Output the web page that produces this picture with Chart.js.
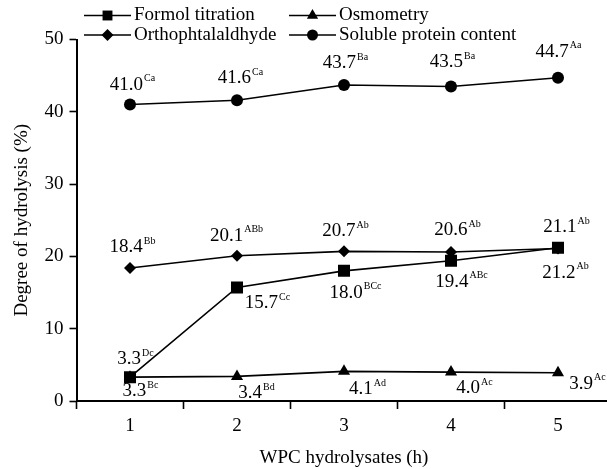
<!DOCTYPE html>
<html>
<head>
<meta charset="utf-8">
<script src="https://cdn.jsdelivr.net/npm/chart.js@4.4.0/dist/chart.umd.min.js"></script>
<style>
  html, body { margin: 0; padding: 0; background: #fff; overflow: hidden; }
  #wrap { width: 640px; height: 469px; }
</style>
</head>
<body>
<div id="wrap"><canvas id="chart" width="640" height="469"></canvas></div>
<script>
// categories (hours) and series values
const hours = ['1', '2', '3', '4', '5'];
const formolValues = [3.3, 15.7, 18.0, 19.4, 21.2];
const osmometryValues = [3.3, 3.4, 4.1, 4.0, 3.9];
const opaValues = [18.4, 20.1, 20.7, 20.6, 21.1];
const solubleValues = [41.0, 41.6, 43.7, 43.5, 44.7];

// significance letters shown as superscripts
const formolLetters = ['Dc', 'Cc', 'BCc', 'ABc', 'Ab'];
const osmometryLetters = ['Bc', 'Bd', 'Ad', 'Ac', 'Ac'];
const opaLetters = ['Bb', 'ABb', 'Ab', 'Ab', 'Ab'];
const solubleLetters = ['Ca', 'Ca', 'Ba', 'Ba', 'Aa'];

const yTicks = [0, 10, 20, 30, 40, 50];

const FONT = '"Liberation Serif", "Times New Roman", serif';

// where each value label sits relative to its point (dx, dy of label centre)
const labelOffsets = [
  [[5, -18], [30, 16], [11, 22], [10, 21], [7, 25]],
  [[10, 14], [19, 17], [23, 18], [23, 16], [29, 11]],
  [[2, -21], [-1, -20], [1, -20], [6, -22], [8, -21]],
  [[2, -20], [3, -22], [1, -22], [1, -24], [0, -26]]
];

function series(label, data, letters, pointStyle, radius, legendRadius) {
  return {
    label: label,
    data: data,
    letters: letters,
    legendRadius: legendRadius,
    borderColor: '#000',
    backgroundColor: '#000',
    borderWidth: 1.6,
    pointStyle: pointStyle,
    pointRadius: radius,
    pointBorderWidth: 0,
    pointBackgroundColor: '#000',
    tension: 0
  };
}

// value labels with superscript letters
const valueLabels = {
  id: 'valueLabels',
  afterDatasetsDraw(chart) {
    const ctx = chart.ctx;
    ctx.save();
    ctx.fillStyle = '#000';
    ctx.textBaseline = 'middle';
    ctx.textAlign = 'left';
    chart.data.datasets.forEach((ds, i) => {
      const meta = chart.getDatasetMeta(i);
      meta.data.forEach((pt, j) => {
        const main = ds.data[j].toFixed(1);
        const sup = ds.letters[j];
        ctx.font = '19px ' + FONT;
        const w1 = ctx.measureText(main).width;
        ctx.font = '10px ' + FONT;
        const w2 = ctx.measureText(sup).width;
        const off = labelOffsets[i][j];
        const cx = pt.x + off[0];
        const cy = pt.y + off[1];
        const x0 = cx - (w1 + w2) / 2;
        ctx.font = '19px ' + FONT;
        ctx.fillText(main, x0, cy);
        ctx.font = '10px ' + FONT;
        ctx.fillText(sup, x0 + w1 + 1, cy - 6);
      });
    });
    ctx.restore();
  }
};

// two-column legend at the top
const topLegend = {
  id: 'topLegend',
  afterDraw(chart) {
    const ctx = chart.ctx;
    const cols = [84, 289];
    const rows = [15.5, 35];
    ctx.save();
    chart.data.datasets.forEach((ds, i) => {
      const x = cols[i % 2];
      const y = rows[Math.floor(i / 2)];
      ctx.strokeStyle = '#000';
      ctx.lineWidth = 1.6;
      ctx.beginPath();
      ctx.moveTo(x, y);
      ctx.lineTo(x + 47, y);
      ctx.stroke();
      ctx.fillStyle = '#000';
      Chart.helpers.drawPoint(ctx, {
        pointStyle: ds.pointStyle,
        radius: ds.legendRadius,
        borderWidth: 0,
        rotation: 0
      }, x + 23.5, y);
      ctx.font = '19px ' + FONT;
      ctx.textBaseline = 'middle';
      ctx.textAlign = 'left';
      ctx.fillText(ds.label, x + 50, y);
    });
    ctx.restore();
  }
};

new Chart(document.getElementById('chart'), {
  type: 'line',
  data: {
    labels: hours,
    datasets: [
      series('Formol titration', formolValues, formolLetters, 'rect', 8.5, 7),
      series('Osmometry', osmometryValues, osmometryLetters, 'triangle', 7, 6.5),
      series('Orthophtalaldhyde', opaValues, opaLetters, 'rectRot', 6, 6),
      series('Soluble protein content', solubleValues, solubleLetters, 'circle', 6, 5.5)
    ]
  },
  options: {
    responsive: false,
    animation: false,
    layout: { padding: { top: 39.5, right: 28.5, left: 0, bottom: 0 } },
    plugins: {
      legend: { display: false },
      tooltip: { enabled: false }
    },
    scales: {
      x: {
        offset: true,
        grid: {
          offset: true,
          drawOnChartArea: false,
          tickLength: 8,
          tickColor: '#000',
          tickWidth: 1.6
        },
        border: { color: '#000', width: 2 },
        ticks: { color: '#000', padding: 6, font: { family: FONT, size: 19 } },
        title: {
          display: true,
          text: 'WPC hydrolysates (h)',
          color: '#000',
          font: { family: FONT, size: 19 },
          padding: { top: 3, bottom: 0 }
        },
        afterFit(scale) { scale.height = 68; }
      },
      y: {
        min: 0,
        max: 50,
        afterBuildTicks(scale) { scale.ticks = yTicks.map(v => ({ value: v })); },
        grid: {
          drawOnChartArea: false,
          tickLength: 7,
          tickColor: '#000',
          tickWidth: 1.6
        },
        border: { color: '#000', width: 2 },
        ticks: { color: '#000', padding: 6, font: { family: FONT, size: 19 } },
        title: {
          display: true,
          text: 'Degree of hydrolysis (%)',
          color: '#000',
          font: { family: FONT, size: 19 },
          padding: { top: 11, bottom: 6 }
        },
        afterFit(scale) { scale.width = 76.5; }
      }
    }
  },
  plugins: [valueLabels, topLegend]
});
</script>
</body>
</html>
